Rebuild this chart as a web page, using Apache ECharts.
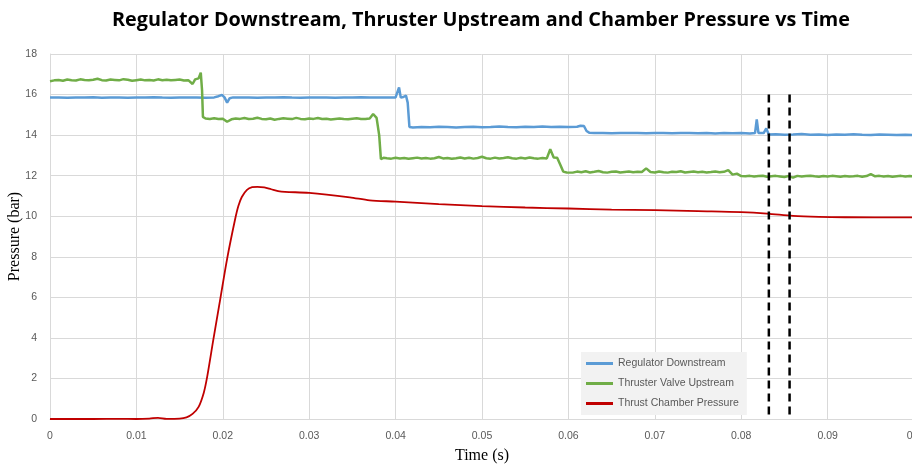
<!DOCTYPE html>
<html><head><meta charset="utf-8">
<script src="https://cdn.jsdelivr.net/npm/echarts@6/dist/echarts.min.js"></script>
<style>html,body{margin:0;padding:0;background:#fff}#c{width:912px;height:468px}</style>
</head><body><div id="c"></div>
<script>
const seriesNames = ['Regulator Downstream', 'Thruster Valve Upstream', 'Thrust Chamber Pressure'];
const xTicks = [0, 0.01, 0.02, 0.03, 0.04, 0.05, 0.06, 0.07, 0.08, 0.09, 0.1];
const yTicks = [0, 2, 4, 6, 8, 10, 12, 14, 16, 18];

const regulatorDownstream = [
[0,15.85],[0.001,15.86],[0.002,15.84],[0.003,15.86],[0.004,15.85],[0.005,15.87],[0.006,15.84],[0.007,15.86],[0.008,15.85],[0.009,15.84],
[0.010,15.86],[0.011,15.85],[0.012,15.87],[0.013,15.85],[0.014,15.84],[0.015,15.86],[0.016,15.85],[0.017,15.86],[0.018,15.84],[0.019,15.86],
[0.0195,15.92],[0.0199,15.98],[0.0202,15.86],[0.0205,15.6],[0.0208,15.82],[0.0212,15.86],[0.022,15.85],[0.023,15.86],[0.024,15.84],[0.025,15.86],
[0.026,15.85],[0.027,15.87],[0.028,15.85],[0.029,15.84],[0.030,15.86],[0.031,15.85],[0.032,15.86],[0.033,15.84],[0.034,15.86],[0.035,15.85],
[0.036,15.87],[0.037,15.85],[0.038,15.86],[0.039,15.85],[0.040,15.86],[0.0402,15.9],[0.0404,16.35],[0.0406,15.85],[0.0409,15.88],[0.0412,15.95],
[0.0414,15.6],[0.0416,14.4],[0.042,14.38],[0.043,14.4],[0.044,14.39],[0.045,14.41],[0.046,14.4],[0.047,14.38],[0.048,14.4],[0.049,14.41],
[0.050,14.39],[0.051,14.4],[0.052,14.42],[0.053,14.4],[0.054,14.39],[0.055,14.41],[0.056,14.4],[0.057,14.42],[0.058,14.4],[0.059,14.41],
[0.060,14.4],[0.061,14.41],[0.0614,14.46],[0.0618,14.45],[0.0621,14.2],[0.0624,14.12],[0.063,14.1],[0.064,14.11],[0.065,14.09],[0.066,14.1],
[0.067,14.11],[0.068,14.1],[0.069,14.09],[0.070,14.11],[0.071,14.1],[0.072,14.09],[0.073,14.1],[0.074,14.11],[0.075,14.09],[0.076,14.1],
[0.077,14.08],[0.078,14.1],[0.079,14.09],[0.080,14.1],[0.081,14.08],[0.0816,14.1],[0.0818,14.78],[0.0820,14.1],[0.0826,14.1],[0.0829,14.33],
[0.0832,14.03],[0.084,14.04],[0.085,14.02],[0.086,14.03],[0.087,14.05],[0.088,14.02],[0.089,14.03],[0.090,14.01],[0.091,14.03],[0.092,14.02],
[0.093,14.04],[0.094,14.02],[0.095,14.01],[0.096,14.03],[0.097,14.02],[0.098,14.0],[0.099,14.02],[0.1,14.0]
];

const thrusterValveUpstream = [
[0,16.66],[0.0005,16.70],[0.001,16.72],[0.0015,16.68],[0.002,16.74],[0.0025,16.71],[0.003,16.69],[0.0035,16.75],[0.004,16.72],[0.0045,16.70],
[0.005,16.73],[0.0055,16.78],[0.006,16.71],[0.0065,16.69],[0.007,16.74],[0.0075,16.72],[0.008,16.70],[0.0085,16.76],[0.009,16.73],[0.0095,16.68],
[0.010,16.71],[0.0105,16.74],[0.011,16.70],[0.0115,16.72],[0.012,16.69],[0.0125,16.75],[0.013,16.71],[0.0135,16.73],[0.014,16.70],[0.0145,16.72],
[0.015,16.74],[0.0155,16.69],[0.016,16.71],[0.0165,16.52],[0.0168,16.75],[0.0172,16.8],[0.01745,17.08],[0.0176,16.2],[0.0177,14.9],[0.0180,14.82],
[0.0185,14.80],[0.019,14.83],[0.0195,14.79],[0.020,14.81],[0.0205,14.66],[0.021,14.78],[0.0215,14.82],[0.022,14.80],[0.0225,14.84],[0.023,14.79],
[0.0235,14.81],[0.024,14.86],[0.0245,14.80],[0.025,14.78],[0.0255,14.82],[0.026,14.76],[0.0265,14.80],[0.027,14.83],[0.0275,14.81],[0.028,14.79],
[0.0285,14.85],[0.029,14.80],[0.0295,14.78],[0.030,14.82],[0.0305,14.80],[0.031,14.84],[0.0315,14.79],[0.032,14.81],[0.0325,14.77],[0.033,14.80],
[0.0335,14.82],[0.034,14.79],[0.0345,14.78],[0.035,14.81],[0.0355,14.83],[0.036,14.80],[0.0365,14.79],[0.037,14.82],[0.0374,15.04],[0.0378,14.85],
[0.0381,14.0],[0.0383,12.82],[0.0386,12.88],[0.039,12.86],[0.0395,12.84],[0.040,12.88],[0.0405,12.85],[0.041,12.87],[0.0415,12.83],[0.042,12.86],
[0.0425,12.89],[0.043,12.85],[0.0435,12.87],[0.044,12.84],[0.0445,12.86],[0.045,12.92],[0.0455,12.85],[0.046,12.87],[0.0465,12.83],[0.047,12.86],
[0.0475,12.90],[0.048,12.85],[0.0485,12.88],[0.049,12.84],[0.0495,12.87],[0.050,12.93],[0.0505,12.86],[0.051,12.84],[0.0515,12.89],[0.052,12.85],
[0.0525,12.87],[0.053,12.91],[0.0535,12.86],[0.054,12.84],[0.0545,12.88],[0.055,12.85],[0.0555,12.90],[0.056,12.86],[0.0565,12.84],[0.057,12.87],
[0.0575,12.85],[0.0579,13.3],[0.0583,12.9],[0.0587,12.88],[0.0591,12.5],[0.0594,12.2],[0.0598,12.16],[0.060,12.18],[0.0605,12.15],[0.061,12.20],
[0.0615,12.17],[0.062,12.22],[0.0625,12.16],[0.063,12.19],[0.0635,12.23],[0.064,12.17],[0.0645,12.15],[0.065,12.19],[0.0655,12.21],[0.066,12.16],
[0.0665,12.18],[0.067,12.20],[0.0675,12.17],[0.068,12.19],[0.0685,12.18],[0.069,12.36],[0.0695,12.18],[0.070,12.16],[0.0705,12.21],[0.071,12.17],
[0.0715,12.15],[0.072,12.19],[0.0725,12.18],[0.073,12.22],[0.0735,12.16],[0.074,12.18],[0.0745,12.20],[0.075,12.17],[0.0755,12.19],[0.076,12.16],
[0.0765,12.18],[0.077,12.21],[0.0775,12.17],[0.078,12.19],[0.0785,12.27],[0.079,12.05],[0.0795,12.1],[0.080,11.98],[0.0805,11.97],[0.081,11.99],
[0.0815,11.96],[0.082,11.98],[0.0825,12.00],[0.083,11.95],[0.0835,11.97],[0.084,11.99],[0.0845,11.96],[0.085,11.93],[0.0855,11.98],[0.086,11.90],
[0.0865,11.99],[0.087,11.96],[0.0875,11.98],[0.088,12.00],[0.0885,11.97],[0.089,11.95],[0.0895,11.98],[0.090,11.96],[0.0905,11.99],[0.091,11.97],
[0.0915,11.95],[0.092,11.98],[0.0925,11.96],[0.093,11.97],[0.0935,11.99],[0.094,11.95],[0.0945,11.98],[0.095,12.08],[0.0955,11.97],[0.096,11.99],
[0.0965,11.96],[0.097,11.98],[0.0975,11.95],[0.098,11.97],[0.0985,11.99],[0.099,11.96],[0.0995,11.98],[0.1,11.97]
];

const thrustChamberPressure = [
[0,0],[0.005,0],[0.008,0.01],[0.010,0],[0.0115,0.02],[0.0125,0.06],[0.0135,0.01],[0.015,0.02],[0.0158,0.08],[0.0165,0.25],
[0.0172,0.6],[0.0178,1.3],[0.0182,2.1],[0.0189,3.9],[0.0197,5.9],[0.0205,7.9],[0.0214,9.8],[0.0218,10.5],[0.0222,10.95],[0.0228,11.3],
[0.0234,11.43],[0.0240,11.45],[0.0248,11.42],[0.0256,11.33],[0.0264,11.24],[0.0272,11.2],[0.030,11.15],[0.0347,10.93],[0.037,10.78],[0.040,10.72],
[0.045,10.6],[0.050,10.5],[0.055,10.43],[0.060,10.38],[0.065,10.33],[0.070,10.3],[0.075,10.25],[0.080,10.2],[0.083,10.13],[0.086,10.02],
[0.089,9.97],[0.092,9.95],[0.1,9.94]
];

const markerTimes = [0.0832, 0.0856];
const markerTop = 16;

const chart = echarts.init(document.getElementById('c'));
const tickFont = {color:'#595959', fontSize:10.5, fontFamily:'Liberation Sans Narrow, Liberation Sans, sans-serif'};
const series = [
  {name: seriesNames[0], type:'line', data: regulatorDownstream, showSymbol:false, lineStyle:{color:'#5b9bd5', width:2.5}, itemStyle:{color:'#5b9bd5'}},
  {name: seriesNames[1], type:'line', data: thrusterValveUpstream, showSymbol:false, lineStyle:{color:'#70ad47', width:2.5}, itemStyle:{color:'#70ad47'}},
  {name: seriesNames[2], type:'line', data: thrustChamberPressure, showSymbol:false, smooth:0.3, lineStyle:{color:'#c00000', width:1.8}, itemStyle:{color:'#c00000'}}
];
markerTimes.forEach(t => series.push({type:'line', data:[[t,markerTop],[t,0]], showSymbol:false, silent:true,
  lineStyle:{color:'#000', width:2.5, type:[8,5]}}));

chart.setOption({
  animation:false,
  title:{text:'Regulator Downstream, Thruster Upstream and Chamber Pressure vs Time', left:476, textAlign:'center', top:5,
    textStyle:{fontFamily:'Open Sans, sans-serif', fontWeight:'bold', fontSize:19.8, color:'#000'}},
  grid:{left:50, right:-2, top:54, bottom:49, containLabel:false, outerBoundsMode:'none'},
  legend:{data:seriesNames, orient:'vertical', left:581, top:352, backgroundColor:'#f2f2f2', padding:[6,8,6,5],
    itemWidth:27, itemHeight:3, itemGap:9, icon:'rect',
    textStyle:{color:'#595959', fontSize:10.5, fontFamily:'Liberation Sans Narrow, Liberation Sans, sans-serif'}},
  xAxis:{type:'value', min:xTicks[0], max:xTicks[xTicks.length-1], interval:0.01,
    name:'Time (s)', nameLocation:'middle', nameGap:29, nameMoveOverlap:false,
    nameTextStyle:{fontFamily:'Liberation Serif, serif', fontSize:16, color:'#000'},
    axisLine:{show:true, lineStyle:{color:'#d9d9d9'}}, axisTick:{show:false},
    axisLabel:Object.assign({margin:12, formatter:v => String(+v.toFixed(2))}, tickFont),
    splitLine:{show:true, lineStyle:{color:'#d9d9d9'}}},
  yAxis:{type:'value', min:yTicks[0], max:yTicks[yTicks.length-1], interval:2,
    name:'Pressure (bar)', nameLocation:'middle', nameGap:27, nameMoveOverlap:false,
    nameTextStyle:{fontFamily:'Liberation Serif, serif', fontSize:16, color:'#000'},
    axisLine:{show:true, lineStyle:{color:'#d9d9d9'}}, axisTick:{show:false},
    axisLabel:Object.assign({margin:13}, tickFont),
    splitLine:{show:true, lineStyle:{color:'#d9d9d9'}}},
  series: series
});
</script></body></html>
